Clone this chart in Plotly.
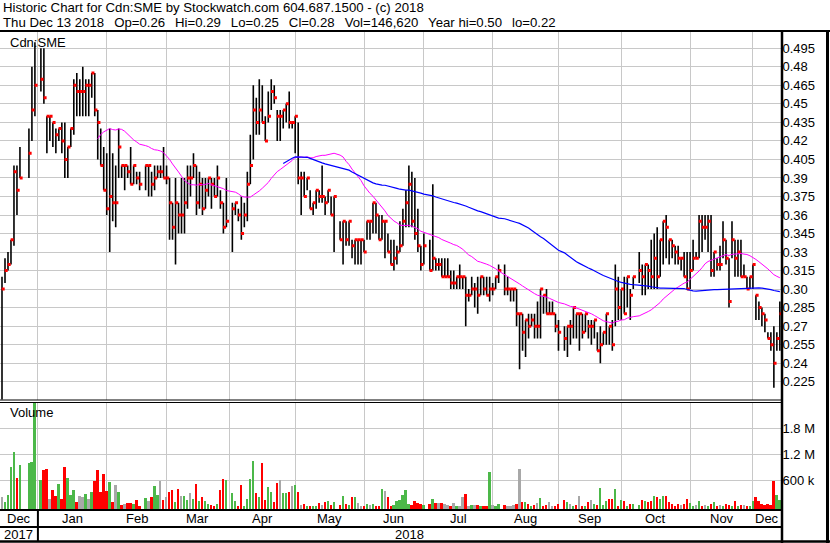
import plotly.graph_objects as go
import pandas as pd

# ---------------- data ----------------
START, END = "2017-12-14", "2018-12-13"
HOLIDAYS = ["2017-12-25", "2017-12-26", "2018-01-01", "2018-02-19", "2018-03-30",
            "2018-05-21", "2018-07-02", "2018-08-06", "2018-09-03", "2018-10-08"]

HIGH = [
    # Dec 2017
    .31, .325, .33, .34, .40, .40, .415, .43, .48, .50,
    # Jan
    .495, .495, .44, .44, .435, .43, .43, .435, .435, .415, .43, .47, .475, .47, .48, .47, .47, .475, .475, .445, .43, .415,
    # Feb
    .41, .43, .41, .40, .43, .40, .40, .40, .415, .40, .395, .395, .40, .40, .395, .40, .40, .40, .415,
    # Mar
    .40, .39, .37, .39, .37, .39, .39, .40, .40, .41, .40, .395, .39, .39, .39, .39, .39, .40, .38, .37, .39,
    # Apr
    .37, .37, .365, .375, .37, .395, .425, .465, .455, .47, .465, .44, .46, .47, .465, .445, .445, .445, .45, .46, .435,
    # May
    .44, .435, .395, .395, .39, .38, .37, .38, .38, .40, .375, .38, .375, .375, .355, .355, .355, .355, .34, .34, .34, .34,
    # Jun
    .34, .355, .355, .37, .37, .36, .36, .355, .345, .34, .34, .335, .355, .365, .38, .40, .395, .39, .365, .335, .345,
    # Jul
    .34, .385, .325, .325, .325, .325, .325, .315, .315, .31, .32, .31, .31, .30, .31, .305, .31, .31, .31, .31, .31,
    # Aug
    .305, .31, .32, .32, .31, .30, .30, .30, .28, .28, .275, .28, .28, .28, .29, .30, .295, .30, .29, .29, .28, .275,
    # Sep
    .27, .27, .275, .285, .28, .28, .28, .28, .275, .275, .275, .265, .27, .265, .28, .27, .275, .32, .31,
    # Oct
    .30, .31, .31, .30, .31, .33, .32, .32, .32, .34, .345, .35, .34, .355, .36, .34, .34, .335, .335, .325, .33, .33,
    # Nov
    .33, .34, .33, .36, .36, .36, .36, .36, .33, .325, .335, .355, .34, .325, .355, .34, .34, .34, .32, .31, .31, .32,
    # Dec 2018
    .295, .29, .285, .28, .265, .265, .27, .265, .29,
]
LOW = [
    .20, .305, .315, .32, .335, .36, .39, .39, .42, .44,
    .46, .45, .41, .42, .415, .41, .42, .41, .39, .39, .415, .425, .44, .44, .44, .44, .44, .455, .44, .405, .40, .38,
    .36, .33, .355, .35, .39, .39, .38, .39, .385, .385, .385, .38, .38, .375, .375, .38, .39, .39, .39,
    .385, .34, .34, .32, .345, .345, .345, .365, .375, .39, .36, .365, .36, .365, .375, .365, .375, .375, .365, .345, .35,
    .33, .36, .355, .34, .35, .355, .385, .405, .425, .425, .435, .42, .435, .445, .45, .42, .42, .43, .435, .43, .43,
    .41, .385, .36, .375, .38, .365, .36, .365, .37, .37, .36, .37, .36, .33, .34, .32, .335, .335, .325, .32, .32, .32,
    .33, .34, .34, .345, .345, .34, .34, .325, .33, .32, .315, .32, .33, .335, .35, .35, .35, .34, .33, .315, .32,
    .315, .315, .315, .315, .31, .31, .31, .30, .30, .30, .30, .30, .27, .29, .295, .285, .28, .295, .295, .295, .29,
    .295, .30, .305, .295, .295, .29, .29, .27, .235, .25, .245, .26, .27, .26, .26, .26, .28, .28, .28, .28, .265, .25,
    .25, .245, .255, .26, .26, .25, .26, .265, .26, .255, .26, .25, .24, .255, .255, .255, .25, .27, .275,
    .275, .28, .285, .275, .30, .305, .295, .295, .30, .30, .30, .30, .31, .32, .325, .32, .325, .32, .32, .315, .31, .30,
    .30, .315, .325, .325, .33, .34, .33, .31, .31, .315, .315, .325, .32, .285, .325, .31, .31, .31, .31, .30, .30, .30,
    .275, .275, .27, .265, .26, .25, .22, .25, .25,
]
CLOSE = [
    .30, .315, .32, .34, .395, .38, .39, .41, .445, .465,
    .47, .455, .44, .44, .435, .425, .43, .42, .405, .415, .43, .465, .46, .46, .46, .465, .465, .475, .445, .435, .40, .38,
    .365, .375, .37, .37, .415, .40, .40, .395, .385, .40, .39, .385, .40, .40, .385, .39, .395, .395, .39,
    .39, .37, .35, .37, .36, .36, .37, .39, .39, .40, .37, .385, .365, .38, .39, .385, .375, .39, .37, .35, .355,
    .365, .37, .36, .345, .36, .385, .40, .445, .435, .445, .435, .42, .44, .46, .455, .44, .44, .445, .45, .435, .435,
    .44, .39, .39, .375, .39, .365, .37, .38, .375, .375, .37, .38, .36, .375, .34, .355, .34, .355, .335, .34, .34, .34,
    .33, .355, .355, .37, .36, .34, .355, .355, .33, .32, .325, .33, .335, .355, .37, .385, .355, .345, .335, .32, .335,
    .315, .325, .32, .32, .31, .31, .31, .305, .305, .31, .31, .31, .295, .295, .30, .30, .295, .31, .30, .295, .30,
    .30, .31, .315, .30, .30, .30, .30, .28, .28, .265, .275, .27, .275, .27, .27, .30, .295, .28, .28, .28, .27, .265,
    .26, .27, .27, .285, .28, .28, .265, .28, .27, .27, .275, .25, .255, .265, .28, .27, .255, .30, .285,
    .30, .28, .31, .295, .31, .315, .31, .32, .315, .31, .325, .31, .34, .355, .35, .34, .335, .33, .325, .325, .31, .30,
    .315, .325, .325, .355, .35, .35, .355, .315, .33, .32, .32, .34, .325, .29, .34, .325, .33, .31, .31, .30, .31, .32,
    .295, .285, .28, .275, .26, .255, .24, .26, .28,
]
VOLUME_K = [
    215, 100, 262, 908, 1254, 654, 954, 1000, 1023, 2400,
    608, 838, 862, 169, 377, 238, 515, 169, 908, 654, 262, 377, 100, 238, 215, 285, 169, 331, 585, 838, 331, 746,
    354, 562, 100, 492, 331, 31, 54, 77, 77, 54, 146, 10, 192, 123, 215, 469, 262, 585, 146,
    215, 331, 377, 100, 400, 238, 238, 146, 308, 169, 515, 123, 215, 123, 54, 31, 15, 54, 377, 631, 608,
    308, 123, 8, 492, 15, 169, 631, 1046, 308, 215, 1000, 146, 446, 331, 100, 538, 608, 308, 308, 331, 469,
    492, 331, 20, 54, 15, 15, 15, 15, 77, 20, 100, 123, 20, 100, 20, 238, 54, 31, 215, 215, 77, 15,
    15, 46, 31, 54, 15, 8, 400, 354, 215, 8, 31, 123, 146, 262, 377, 54, 31, 123, 77, 54, 20,
    54, 169, 77, 77, 77, 54, 31, 8, 77, 8, 8, 215, 285, 8, 31, 31, 31, 8, 8, 8, 792,
    31, 8, 54, 31, 8, 8, 31, 54, 862, 100, 100, 54, 8, 31, 77, 192, 8, 31, 100, 8, 8, 54,
    146, 108, 54, 8, 31, 238, 8, 15, 100, 146, 54, 31, 423, 31, 123, 169, 169, 400, 8,
    146, 123, 8, 54, 54, 31, 146, 123, 100, 123, 238, 215, 169, 238, 238, 100, 54, 8, 54, 31, 54, 169,
    77, 8, 31, 123, 8, 31, 8, 54, 100, 8, 31, 8, 54, 31, 8, 123, 8, 31, 31, 8, 15, 123,
    215, 123, 54, 31, 54, 31, 585, 262, 146.62,
]
PRICE_TICKS = [0.495, 0.48, 0.465, 0.45, 0.435, 0.42, 0.405, 0.39, 0.375, 0.36,
               0.345, 0.33, 0.315, 0.30, 0.285, 0.27, 0.255, 0.24, 0.225]
PRICE_TICK_TEXT = ["0.495", "0.48", "0.465", "0.45", "0.435", "0.42", "0.405", "0.39", "0.375", "0.36",
                   "0.345", "0.33", "0.315", "0.30", "0.285", "0.27", "0.255", "0.24", "0.225"]
VOL_TICKS = [600000, 1200000, 1800000]
VOL_TICK_TEXT = ["600 k", "1.2 M", "1.8 M"]
MONTH_LABELS = ["Dec", "Jan", "Feb", "Mar", "Apr", "May", "Jun", "Jul", "Aug", "Sep", "Oct", "Nov", "Dec"]
YEAR_LABELS = ["2017", "2018"]
HEADER1 = "Historic Chart for Cdn:SME by Stockwatch.com 604.687.1500 - (c) 2018"
HEADER2 = "Thu Dec 13 2018  Op=0.26  Hi=0.29  Lo=0.25  Cl=0.28  Vol=146,620  Year hi=0.50  lo=0.22"

# ---------------- derived positions ----------------
weekdays = pd.bdate_range(START, END)
trading = [d for d in weekdays if d.strftime("%Y-%m-%d") not in HOLIDAYS]
X = [int(weekdays.get_loc(d)) for d in trading]
n = min(len(X), len(HIGH), len(LOW), len(CLOSE), len(VOLUME_K))
X, HIGH, LOW, CLOSE, VOLUME_K = X[:n], HIGH[:n], LOW[:n], CLOSE[:n], VOLUME_K[:n]
VOLUME = [v * 1000 for v in VOLUME_K]

closes = pd.Series(CLOSE)
ma30 = closes.rolling(30).mean()
ma90 = closes.rolling(90).mean()

grid_slots = []
for m in pd.date_range("2018-01-01", "2018-12-01", freq="MS"):
    d = m
    while d.weekday() >= 5:
        d -= pd.Timedelta(days=1)
    grid_slots.append(int(weekdays.get_loc(d)))

W, H = 830, 543
XMIN, XMAX = -0.67, len(weekdays) - 0.45
PLOT_R = 781.5  # px
def px(x):
    return x / W
def py(y):
    return 1 - y / H

P_TOP_PX, P_BOT_PX = 32, 399.5
def price_at(ypx):
    return 0.495 - (ypx - 48.3) / ((381.7 - 48.3) / 0.27)
V_TOP_PX, V_BOT_PX = 403, 509.5
def vol_at(ypx):
    return (506.3 - ypx) / 26.0 * 600000
VOL_FLOOR = vol_at(V_BOT_PX)

FONT = "Liberation Sans, Arial, sans-serif"
fig = go.Figure()

bx, by = [], []
for xi, h, l in zip(X, HIGH, LOW):
    bx += [xi, xi, None]
    by += [h, l, None]
fig.add_trace(go.Scatter(x=bx, y=by, mode="lines", line=dict(color="black", width=1.6),
                         hoverinfo="skip", xaxis="x", yaxis="y"))
fig.add_trace(go.Scatter(x=[xi + 0.4 for xi in X], y=CLOSE, mode="markers",
                         marker=dict(symbol="square", size=3, color="#ff0000", line=dict(width=0)),
                         xaxis="x", yaxis="y"))
fig.add_trace(go.Scatter(x=X, y=ma30, mode="lines", line=dict(color="#ff00ff", width=1),
                         connectgaps=False, xaxis="x", yaxis="y"))
fig.add_trace(go.Scatter(x=X, y=ma90, mode="lines", line=dict(color="#0000ff", width=1.2),
                         connectgaps=False, xaxis="x", yaxis="y"))

colors = []
prev = None
for c in CLOSE:
    if prev is None or c == prev:
        colors.append("#a8a8a8")
    elif c > prev:
        colors.append("#4cb849")
    else:
        colors.append("#ff0000")
    prev = c
fig.add_trace(go.Bar(x=X, y=[v - VOL_FLOOR for v in VOLUME], base=VOL_FLOOR, width=0.62,
                     marker=dict(color=colors, line=dict(width=0)), xaxis="x2", yaxis="y2"))

grid = "#c8c8c8"
fig.update_layout(
    width=W, height=H, margin=dict(l=0, r=0, t=0, b=0),
    paper_bgcolor="white", plot_bgcolor="white", showlegend=False,
    font=dict(family=FONT, size=13, color="black"),
    bargap=0,
    xaxis=dict(domain=[0, px(PLOT_R)], range=[XMIN, XMAX], anchor="y",
               tickvals=grid_slots, showticklabels=False, ticks="",
               showgrid=True, gridcolor=grid, gridwidth=1, zeroline=False, showline=False),
    xaxis2=dict(domain=[0, px(PLOT_R)], range=[XMIN, XMAX], anchor="y2", matches="x",
                tickvals=grid_slots, showticklabels=False, ticks="",
                showgrid=True, gridcolor=grid, gridwidth=1, zeroline=False, showline=False),
    yaxis=dict(domain=[py(P_BOT_PX), py(P_TOP_PX)], range=[price_at(P_BOT_PX), price_at(P_TOP_PX)],
               anchor="x", side="right", tickvals=PRICE_TICKS, ticktext=PRICE_TICK_TEXT,
               ticks="", showgrid=True, gridcolor=grid, gridwidth=1, zeroline=False,
               tickfont=dict(family=FONT, size=13, color="black")),
    yaxis2=dict(domain=[py(V_BOT_PX), py(V_TOP_PX)], range=[VOL_FLOOR, vol_at(V_TOP_PX)],
                anchor="x2", side="right", tickvals=VOL_TICKS, ticktext=VOL_TICK_TEXT,
                ticks="", showgrid=True, gridcolor=grid, gridwidth=1, zeroline=False,
                tickfont=dict(family=FONT, size=13, color="black")),
)

ann = []
HFONT = 13.2
GAP = "\u00a0\u2009 "
ann.append(dict(text=HEADER1, x=px(1), y=py(8), xref="paper", yref="paper",
                xanchor="left", yanchor="middle", showarrow=False, font=dict(size=HFONT)))
ann.append(dict(text=HEADER2.replace("  ", GAP), x=px(1), y=py(22), xref="paper", yref="paper",
                xanchor="left", yanchor="middle", showarrow=False, font=dict(size=HFONT)))
ann.append(dict(text="Cdn:SME", x=px(8), y=py(42), xref="paper", yref="paper",
                xanchor="left", yanchor="middle", showarrow=False, font=dict(size=13)))
ann.append(dict(text="Volume", x=px(8), y=py(413), xref="paper", yref="paper",
                xanchor="left", yanchor="middle", showarrow=False, font=dict(size=13)))
bounds = [XMIN] + grid_slots + [XMAX]
for i, lab in enumerate(MONTH_LABELS):
    ann.append(dict(text=lab, x=(bounds[i] + bounds[i + 1]) / 2, y=py(518), xref="x", yref="paper",
                    xanchor="center", yanchor="middle", showarrow=False, font=dict(size=13)))
ybounds = [XMIN, grid_slots[0], XMAX]
for i, lab in enumerate(YEAR_LABELS):
    ann.append(dict(text=lab, x=(ybounds[i] + ybounds[i + 1]) / 2, y=py(534.5), xref="x", yref="paper",
                    xanchor="center", yanchor="middle", showarrow=False, font=dict(size=13)))
fig.update_layout(annotations=ann)

shapes = []
def hline(y, x0, x1, w):
    shapes.append(dict(type="line", xref="paper", yref="paper", x0=px(x0), x1=px(x1), y0=py(y), y1=py(y),
                       line=dict(color="black", width=w)))
def vline(x, y0, y1, w):
    shapes.append(dict(type="line", xref="paper", yref="paper", x0=px(x), x1=px(x), y0=py(y0), y1=py(y1),
                       line=dict(color="black", width=w)))
hline(31, 0, W, 2)
hline(400, 0, PLOT_R, 1)
hline(402.5, 0, PLOT_R, 1)
hline(510, 0, PLOT_R, 2)
hline(527, 0, PLOT_R, 2)
hline(541.5, 0, W, 2.5)
vline(782, 30, H, 2.5)
vline(827.5, 30, H, 3)
shapes.append(dict(type="line", xref="x", yref="paper", x0=grid_slots[0], x1=grid_slots[0],
                   y0=py(510), y1=py(541.5), line=dict(color="black", width=2)))
fig.update_layout(shapes=shapes)

fig.write_html("out.html", config={"displayModeBar": False},
               post_script="document.body.style.margin='0px';document.body.style.overflow='hidden';")
